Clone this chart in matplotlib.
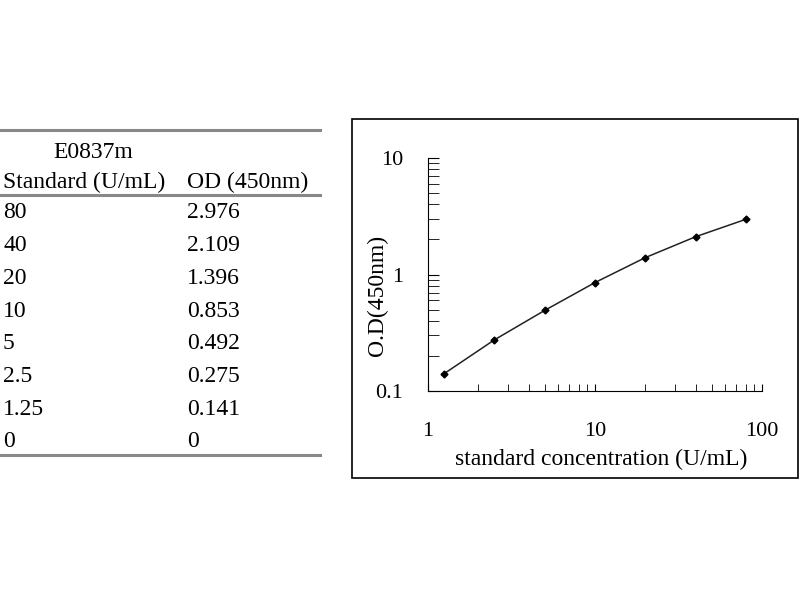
import matplotlib.pyplot as plt
from matplotlib.patches import Rectangle
from matplotlib.ticker import FixedLocator, NullFormatter, LogLocator

plt.rcParams['font.family'] = ['Liberation Serif', 'DejaVu Serif']

# data from the standard table
std_labels = ['80', '40', '20', '10', '5', '2.5', '1.25', '0']
od_labels = ['2.976', '2.109', '1.396', '0.853', '0.492', '0.275', '0.141', '0']
conc = [1.25, 2.5, 5, 10, 20, 40, 80]
od = [0.141, 0.275, 0.492, 0.853, 1.396, 2.109, 2.976]

W, H = 800, 600
fig = plt.figure(figsize=(8, 6), dpi=100)


def fx(px):
    return px / W


def fy(py):
    return 1 - py / H


# ---- table on the left ----
for y in [130, 195, 455]:
    fig.add_artist(plt.Line2D([fx(0), fx(320)], [fy(y), fy(y)], color='#888888', lw=2.2))

tfs = 17
fig.text(fx(93), fy(152), 'E0837m', ha='center', va='center', fontsize=tfs)
fig.text(fx(3), fy(182), 'Standard (U/mL)', ha='left', va='center', fontsize=tfs)
fig.text(fx(187), fy(182), 'OD (450nm)', ha='left', va='center', fontsize=tfs)
row_y0, row_dy = 213, 32.7
for i, (s, o) in enumerate(zip(std_labels, od_labels)):
    yy = row_y0 + i * row_dy
    fig.text(fx(3), fy(yy), s, ha='left', va='center', fontsize=tfs)
    fig.text(fx(187), fy(yy), o, ha='left', va='center', fontsize=tfs)

# ---- chart box ----
fig.add_artist(Rectangle((fx(352), fy(478)), fx(798) - fx(352), fy(119) - fy(478),
                         transform=fig.transFigure, fill=False, ec='black', lw=1.2))

ax = fig.add_axes([fx(428), fy(391), fx(762) - fx(428), fy(158) - fy(391)])
ax.plot(conc, od, color='#222222', lw=1.1, marker='D', ms=3.5, mfc='black', mec='black')
ax.set_xscale('log')
ax.set_yscale('log')
ax.set_xlim(1, 100)
ax.set_ylim(0.1, 10)

ax.spines['top'].set_visible(False)
ax.spines['right'].set_visible(False)

ax.xaxis.set_major_locator(FixedLocator([1, 10, 100]))
ax.set_xticklabels(['1', '10', '100'])
ax.yaxis.set_major_locator(FixedLocator([0.1, 1, 10]))
ax.set_yticklabels(['0.1', '1', '10'])
ax.xaxis.set_minor_locator(LogLocator(base=10, subs=range(2, 10)))
ax.yaxis.set_minor_locator(LogLocator(base=10, subs=range(2, 10)))
ax.xaxis.set_minor_formatter(NullFormatter())
ax.yaxis.set_minor_formatter(NullFormatter())

ax.tick_params(axis='x', which='both', direction='in', length=5, labelsize=16, pad=22)
ax.tick_params(axis='y', which='both', direction='in', length=8, labelsize=16, pad=18)

ax.set_xlabel('standard concentration (U/mL)', fontsize=17)
ax.set_ylabel('O.D(450nm)', fontsize=17)
ax.xaxis.set_label_coords(0.52, -0.25)
ax.yaxis.set_label_coords(-0.12, 0.41)

fig.savefig('out.png', dpi=100)
